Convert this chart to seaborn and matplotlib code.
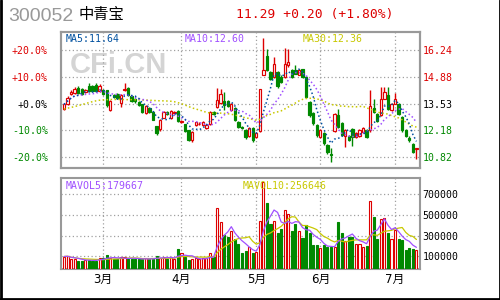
import numpy as np
import pandas as pd
import matplotlib
matplotlib.use("Agg")
import matplotlib.pyplot as plt
import seaborn as sns

# ---------------- data ----------------
OPEN = [13.26, 13.49, 14.00, 14.06, 14.34, 14.25, 14.10, 14.42, 14.40, 14.45,
        14.17, 14.20, 14.20, 13.23, 13.95, 14.00, 13.56, 14.20, 14.32, 13.90,
        13.76, 13.61, 13.49, 13.06, 13.30, 13.10, 12.38, 12.27, 12.82, 13.12,
        12.82, 13.05, 13.17, 12.60, 12.48, 12.18, 11.68, 12.43, 12.48, 12.43,
        12.30, 12.50, 13.12, 13.36, 13.56, 13.66, 13.65, 13.19, 13.33, 12.60,
        12.36, 12.22, 11.88, 12.32, 11.83, 12.13, 14.99, 15.92, 15.13, 14.87,
        15.13, 14.87, 14.87, 15.46, 15.25, 15.21, 14.99, 15.26, 14.87, 13.61,
        13.04, 12.43, 11.84, 12.03, 11.42, 10.98, 12.15, 12.94, 12.55, 11.88,
        11.88, 12.23, 11.84, 11.88, 12.10, 12.22, 12.18, 13.33, 12.99, 12.94,
        13.78, 13.95, 13.19, 13.53, 13.49, 12.85, 12.18, 11.81, 11.47, 11.25]
HIGH = [13.52, 13.92, 14.20, 14.35, 14.40, 14.30, 14.26, 14.57, 14.45, 14.55,
        14.50, 14.28, 14.22, 13.70, 14.00, 14.05, 14.02, 14.57, 14.35, 13.93,
        13.80, 13.66, 13.52, 13.45, 13.35, 13.15, 12.42, 12.74, 13.15, 13.18,
        13.22, 13.18, 13.20, 12.70, 12.52, 12.22, 12.15, 12.62, 12.60, 12.64,
        12.50, 13.15, 13.16, 14.34, 14.29, 14.12, 13.70, 13.58, 13.38, 12.66,
        12.40, 12.27, 12.36, 12.36, 12.10, 14.28, 16.86, 16.30, 15.20, 15.88,
        15.20, 14.95, 16.32, 16.30, 15.30, 15.50, 15.30, 15.30, 14.92, 13.68,
        13.10, 12.50, 12.25, 12.10, 11.48, 11.30, 13.05, 13.24, 12.60, 12.26,
        11.95, 12.30, 12.10, 12.26, 12.36, 12.26, 14.24, 13.78, 13.05, 14.37,
        14.35, 14.37, 13.55, 14.05, 13.55, 12.92, 12.25, 11.88, 11.55, 11.31]
LOW = [13.20, 13.45, 13.95, 14.00, 14.02, 13.98, 14.05, 14.10, 14.10, 14.12,
       14.12, 13.98, 13.35, 13.15, 13.80, 13.76, 13.36, 14.15, 13.90, 13.62,
       13.58, 13.40, 13.05, 13.00, 13.05, 12.68, 11.96, 12.15, 12.78, 12.98,
       12.75, 13.00, 12.60, 12.55, 12.10, 11.65, 11.60, 12.40, 12.43, 12.40,
       12.26, 12.45, 12.98, 13.30, 13.50, 13.19, 13.34, 13.15, 12.66, 12.28,
       12.24, 11.76, 11.84, 11.60, 11.80, 12.08, 14.95, 15.20, 14.72, 14.80,
       14.32, 14.55, 14.80, 15.40, 14.80, 15.00, 14.95, 14.80, 13.80, 12.85,
       12.45, 11.85, 11.80, 11.45, 11.00, 10.58, 12.10, 12.30, 11.88, 11.34,
       11.62, 11.40, 11.80, 11.84, 12.05, 11.80, 12.12, 13.06, 12.60, 12.90,
       13.74, 13.22, 13.15, 13.50, 12.98, 12.12, 11.82, 11.60, 11.02, 10.75]
CLOSE = [13.49, 13.83, 14.10, 14.25, 14.08, 14.02, 14.20, 14.15, 14.15, 14.17,
         14.42, 14.03, 13.44, 13.65, 13.86, 13.81, 13.99, 14.29, 13.95, 13.66,
         13.65, 13.44, 13.10, 13.40, 13.10, 12.72, 12.05, 12.69, 13.11, 13.03,
         13.16, 13.10, 12.65, 12.66, 12.15, 11.71, 12.10, 12.58, 12.52, 12.60,
         12.45, 13.10, 13.02, 13.73, 14.00, 13.44, 13.39, 13.53, 12.72, 12.34,
         12.30, 11.82, 12.32, 11.68, 12.03, 14.25, 15.21, 15.25, 14.79, 15.55,
         14.40, 14.62, 15.55, 15.63, 14.87, 15.05, 15.25, 14.87, 13.86, 12.94,
         12.53, 11.93, 12.18, 11.52, 11.07, 10.94, 12.99, 12.35, 11.93, 12.22,
         11.68, 11.84, 12.03, 12.22, 12.30, 11.84, 13.39, 13.11, 12.65, 13.78,
         14.12, 13.28, 13.49, 13.78, 13.02, 12.18, 11.88, 11.68, 11.09, 11.29]
VOLUME = [98000, 103000, 71000, 71000, 58000, 58000, 64000, 64000, 58000, 58000,
          84000, 87000, 113000, 84000, 71000, 71000, 90000, 90000, 77000, 77000,
          71000, 77000, 71000, 81000, 71000, 77000, 103000, 87000, 90000, 77000,
          90000, 77000, 168000, 129000, 90000, 64000, 74000, 81000, 74000, 81000,
          81000, 129000, 90000, 565000, 429000, 306000, 290000, 345000, 265000, 219000,
          135000, 151000, 187000, 129000, 145000, 445000, 822000, 619000, 413000, 442000,
          329000, 361000, 548000, 509000, 345000, 413000, 345000, 280000, 403000, 323000,
          209000, 209000, 177000, 209000, 193000, 193000, 193000, 429000, 329000, 248000,
          290000, 284000, 219000, 219000, 187000, 200000, 635000, 477000, 268000, 458000,
          474000, 329000, 268000, 355000, 268000, 258000, 161000, 183000, 171000, 161000]
# MA30 before 30 visible sessions exist
MA30_EARLY = [13.26, 13.30, 13.34, 13.38, 13.43, 13.48, 13.53, 13.58, 13.63, 13.67,
              13.70, 13.72, 13.73, 13.74, 13.74, 13.74, 13.74, 13.73, 13.73, 13.73,
              13.72, 13.72, 13.71, 13.71, 13.70, 13.69, 13.68, 13.67, 13.67]

PRICE_TICKS = [16.24, 14.88, 13.53, 12.18, 10.82]
PCT_LABELS = ["+20.0%", "+10.0%", "+0.0%", "-10.0%", "-20.0%"]
VOL_TICKS = [700000, 500000, 300000, 100000]
MONTH_START = [11, 33, 54, 72, 93]
MONTH_LABELS = ["3月", "4月", "5月", "6月", "7月"]

CODE = "300052"
NAME = "中青宝"
QUOTE = "11.29 +0.20 (+1.80%)"
MA_LABELS = ["MA5:11.64", "MA10:12.60", "MA30:12.36"]
VOL_LABELS = ["MAVOL5:179667", "MAVOL10:256646"]

# ---------------- styling ----------------
RED = "#dd0000"
GREEN = "#008800"
MA5_C = "#00509f"
MA10_C = "#a050ff"
MA30_C = "#c8c800"
FRAME_C = "#999999"
GRID_C = "#a0a0a0"
MONO = "DejaVu Sans Mono"

sns.set_theme(style="white")
plt.rcParams["font.family"] = ["DejaVu Sans", "Noto Sans CJK SC"]

df = pd.DataFrame({"day": np.arange(len(CLOSE)), "open": OPEN, "high": HIGH,
                   "low": LOW, "close": CLOSE, "volume": VOLUME})
df["ma5"] = df["close"].rolling(5, min_periods=1).mean()
df["ma10"] = df["close"].rolling(10, min_periods=1).mean()
ma30 = df["close"].rolling(30).mean()
ma30.iloc[:len(MA30_EARLY)] = MA30_EARLY
df["ma30"] = ma30
df["vma5"] = df["volume"].rolling(5, min_periods=1).mean()
df["vma10"] = df["volume"].rolling(10, min_periods=1).mean()
up = (df["close"] >= df["open"]).to_numpy()

fig = plt.figure(figsize=(5, 3), dpi=100)
fig.patch.set_facecolor("white")
axp = fig.add_axes([0.122, 0.44, 0.718, 0.4543])
axv = fig.add_axes([0.122, 0.1033, 0.718, 0.3033])

VOL_MIN, VOL_MAX = -23000, 858000
for ax in (axp, axv):
    ax.set_xlim(-0.84, 100.0)
    ax.set_facecolor("white")
    for s in ax.spines.values():
        s.set_color(FRAME_C)
        s.set_linewidth(1.5)
        s.set_visible(True)
axp.set_ylim(10.28, 17.16)
axv.set_ylim(VOL_MIN, VOL_MAX)

# watermark
axp.text(0.025, 0.755, "CFi.CN", transform=axp.transAxes, fontsize=21,
         fontweight="bold", color="#d4d4d4", family="Liberation Sans",
         va="center", ha="left", zorder=0.5)

# candles
cols = np.where(up, RED, GREEN)
faces = np.where(up, "white", GREEN)
axp.vlines(df["day"], df["low"], df["high"], colors=list(cols), linewidth=1, zorder=3)
body_lo = np.minimum(df["open"], df["close"])
body_h = np.maximum((df["close"] - df["open"]).abs(), 0.025)
axp.bar(df["day"], body_h, bottom=body_lo, width=0.66, color=list(faces),
        edgecolor=list(cols), linewidth=0.85, zorder=4)

# moving averages
dots = (0, (1, 1.6))
for col, c in (("ma30", MA30_C), ("ma10", MA10_C), ("ma5", MA5_C)):
    sns.lineplot(data=df, x="day", y=col, ax=axp, color=c, linewidth=1.1,
                 linestyle=dots, zorder=5)

# volume bars from the panel floor
axv.bar(df["day"], df["volume"] - VOL_MIN, bottom=VOL_MIN, width=0.58,
        color=list(faces), edgecolor=list(cols), linewidth=0.8, zorder=3)
sns.lineplot(data=df, x="day", y="vma10", ax=axv, color=MA30_C, linewidth=0.9, zorder=5)
sns.lineplot(data=df, x="day", y="vma5", ax=axv, color=MA10_C, linewidth=0.9, zorder=5)

for ax in (axp, axv):
    ax.set_xlabel("")
    ax.set_ylabel("")
    ax.set_xticks(MONTH_START)
    ax.grid(True, color=GRID_C, linestyle=(0, (1, 2)), linewidth=0.9)
    ax.set_axisbelow(True)
    ax.tick_params(length=0)

# price axis labels
axp.set_xticklabels([])
axp.set_yticks(PRICE_TICKS)
axp.set_yticklabels(PCT_LABELS, family=MONO, fontsize=7.1)
axp.tick_params(axis="y", pad=9.5)
lab_cols = [RED, RED, "black", GREEN, GREEN]
for t, c in zip(axp.get_yticklabels(), lab_cols):
    t.set_color(c)
axr = axp.twinx()
axr.set_ylim(axp.get_ylim())
axr.set_yticks(PRICE_TICKS)
axr.set_yticklabels(["%.2f" % v for v in PRICE_TICKS], family=MONO, fontsize=7.1)
axr.tick_params(length=0, pad=2)
axr.grid(False)
for s in axr.spines.values():
    s.set_color(FRAME_C)
    s.set_linewidth(1.5)
for t, c in zip(axr.get_yticklabels(), lab_cols):
    t.set_color(c)

# volume axis labels
axv.yaxis.tick_right()
axv.set_yticks(VOL_TICKS)
axv.set_yticklabels([str(v) for v in VOL_TICKS], family=MONO, fontsize=7.1, color="black")
axv.tick_params(axis="y", pad=2)
axv.set_xticklabels(MONTH_LABELS, fontsize=8.5, color="black")
axv.tick_params(axis="x", pad=2.5)

# legends
axp.text(0.014, 0.95, MA_LABELS[0], transform=axp.transAxes, color=MA5_C,
         family=MONO, fontsize=7.1, va="center", zorder=6)
axp.text(0.343, 0.95, MA_LABELS[1], transform=axp.transAxes, color=MA10_C,
         family=MONO, fontsize=7.1, va="center", zorder=6)
axp.text(0.674, 0.95, MA_LABELS[2], transform=axp.transAxes, color=MA30_C,
         family=MONO, fontsize=7.1, va="center", zorder=6)
axv.text(0.014, 0.912, VOL_LABELS[0], transform=axv.transAxes, color=MA10_C,
         family=MONO, fontsize=7.1, va="center", zorder=6)
axv.text(0.507, 0.912, VOL_LABELS[1], transform=axv.transAxes, color=MA30_C,
         family=MONO, fontsize=7.1, va="center", zorder=6)

# header
fig.text(8 / 500, 1 - 16.3 / 300, CODE, color="#999999", fontsize=14,
         family="Liberation Sans", va="center", ha="left")
fig.text(79 / 500, 1 - 15 / 300, NAME, color="black", fontsize=11,
         family="Noto Sans CJK SC", va="center", ha="left")
fig.text(236 / 500, 1 - 14.5 / 300, QUOTE, color=RED, fontsize=9.4,
         family=MONO, va="center", ha="left")

# outer border (left, bottom, right)
for xs, ys in (([0.001, 0.001], [0, 1]), ([0, 1], [0.002, 0.002]), ([0.999, 0.999], [0, 1])):
    fig.add_artist(plt.Line2D(xs, ys, transform=fig.transFigure, color="black", linewidth=2))

fig.savefig("out.png", dpi=100, facecolor="white")
